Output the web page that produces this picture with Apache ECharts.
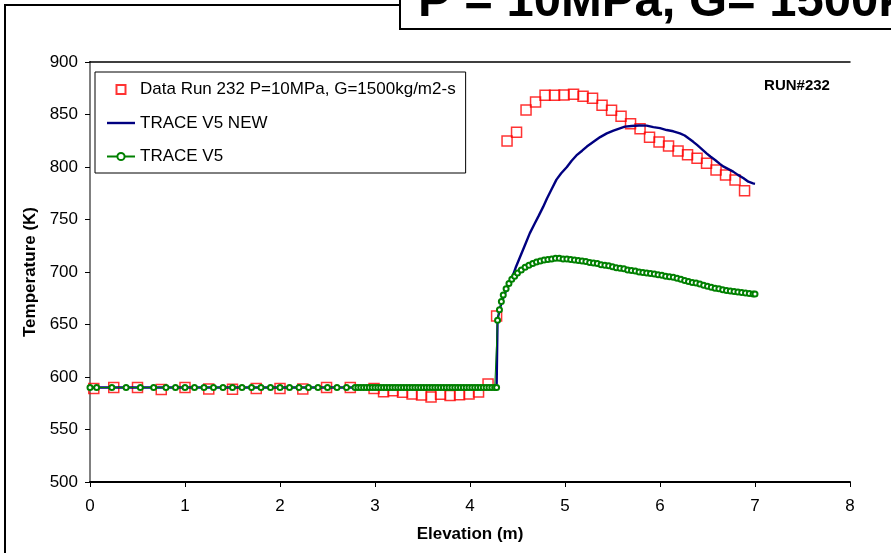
<!DOCTYPE html>
<html><head><meta charset="utf-8">
<script src="https://cdn.jsdelivr.net/npm/echarts@6/dist/echarts.min.js"></script>
<style>html,body{margin:0;padding:0;background:#fff}#c{width:891px;height:553px}</style>
</head><body><div id="c"></div>
<script>
// ---- data ----
var xTicks = [0,1,2,3,4,5,6,7,8];
var yTicks = [500,550,600,650,700,750,800,850,900];

var dataName = 'Data Run 232 P=10MPa, G=1500kg/m2-s';
var dataX = [0.04,0.25,0.5,0.75,1.0,1.25,1.5,1.75,2.0,2.24,2.49,2.74,2.99,3.09,3.19,3.29,3.39,3.49,3.59,3.69,3.79,3.89,3.99,4.09,4.19,4.28,4.39,4.49,4.59,4.69,4.79,4.89,4.99,5.09,5.19,5.29,5.39,5.49,5.59,5.69,5.79,5.89,5.99,6.09,6.19,6.29,6.39,6.49,6.59,6.69,6.79,6.89];
var dataY = [589,590,590,588,590,588.6,588.3,589,589,588.6,590,590,589,586,587,585.4,583.8,582.9,581,583.5,582.5,583.2,583.8,585.7,593.3,658,824.8,833,854.3,862,868.3,868.3,868.6,869.2,867.3,865.4,858.8,854,848.3,841.2,836.5,828.3,823.8,820,815.2,811.7,808.3,803.5,797.1,792.4,787.6,777.5];

var newName = 'TRACE V5 NEW';
var newX = [0,4.28,4.29,4.32,4.36,4.40,4.44,4.48,4.53,4.58,4.63,4.68,4.72,4.77,4.81,4.86,4.91,4.96,5.02,5.07,5.12,5.18,5.23,5.30,5.37,5.44,5.51,5.57,5.63,5.70,5.78,5.86,5.93,6.00,6.07,6.14,6.21,6.26,6.30,6.35,6.39,6.44,6.49,6.53,6.58,6.63,6.67,6.72,6.77,6.82,6.88,6.93,6.98,7.00];
var newY = [590,590,655,667,678,686,694,704,715,726,737,746,753,762,770,779,788,794,800,806,811,815.5,819.5,824,828.5,832,834.6,836.5,838.4,839,839.5,839.4,838,837,835.2,834,832,830,827.3,824,821,817,813,810,806.7,803,800.3,798,795.6,792.5,789.2,786,784.4,784];

var v5Name = 'TRACE V5';
var v5X = [0,0.07,0.23,0.38,0.53,0.67,0.8,0.9,1.0,1.1,1.2,1.3,1.4,1.5,1.6,1.7,1.8,1.9,2.0,2.1,2.2,2.3,2.4,2.5,2.6,2.7,2.79,
  2.82,2.85,2.88,2.91,2.94,2.97,3.00,3.03,3.06,3.09,3.12,3.15,3.18,3.21,3.24,3.27,3.30,3.33,3.36,3.39,3.42,3.45,3.48,3.51,3.54,3.57,3.60,3.63,3.66,3.69,3.72,3.75,3.78,3.81,3.84,3.87,3.90,3.93,3.96,3.99,4.02,4.05,4.08,4.11,4.14,4.17,4.20,4.23,4.26,4.28,
  4.29,4.31,4.33,4.35,4.38,4.41,4.44,4.47,4.50,4.54,4.58,4.62,4.66,4.70,4.74,4.78,4.82,4.86,4.90,4.94,4.98,5.02,5.06,5.10,5.14,5.18,5.22,5.26,5.30,5.34,5.38,5.42,5.46,5.50,5.54,5.58,5.62,5.66,5.70,5.74,5.78,5.82,5.86,5.90,5.94,5.98,6.02,6.06,6.10,6.14,6.18,6.22,6.26,6.30,6.34,6.38,6.42,6.46,6.50,6.54,6.58,6.62,6.66,6.70,6.74,6.78,6.82,6.86,6.90,6.94,6.98,7.00];
var v5Y = [590,590,590,590,590,590,590,590,590,590,590,590,590,590,590,590,590,590,590,590,590,590,590,590,590,590,590,
  590,590,590,590,590,590,590,590,590,590,590,590,590,590,590,590,590,590,590,590,590,590,590,590,590,590,590,590,590,590,590,590,590,590,590,590,590,590,590,590,590,590,590,590,590,590,590,590,590,590,
  654,664,672,678,684,689,693,696,699,702,704.5,706.5,708,709.5,710.5,711.5,712,712.5,713,713,712.5,712.5,712,711.5,711,710.5,710,709,708.5,708,707,706.5,706,705,704,703.5,703,702,701.5,701,700,699.5,699,698.5,698,697.5,697,696,695.5,695,694,693,692,691,690,689.5,688.5,687.5,686.5,685.5,684.5,684,683,682.5,682,681.5,681,680.5,680,679.5,679,679];

var titleText = 'P = 10MPa, G= 1500kg/m2-s';
var runLabel = 'RUN#232';
var xName = 'Elevation (m)';
var yName = 'Temperature (K)';

function pairs(xs, ys){ return xs.map(function(x,i){ return [x, ys[i]]; }); }

var FONT = 'Arial, "Liberation Sans", sans-serif';
var chart = echarts.init(document.getElementById('c'), null, {renderer:'canvas'});
chart.setOption({
  animation: false,
  backgroundColor: '#fff',
  grid: {left: 90, right: 41, top: 62, bottom: 71, show: false},
  legend: {
    orient: 'vertical', left: 95, top: 72,
    padding: [9, 10, 8, 11],
    itemGap: 16.5, itemWidth: 28, itemHeight: 9,
    backgroundColor: '#fff', borderColor: '#000', borderWidth: 1,
    textStyle: {fontFamily: FONT, fontSize: 17, color: '#000', lineHeight: 17},
    data: [
      {name: dataName, icon: 'path://M0,0L10,0L10,10L0,10Z'},
      {name: newName, icon: 'path://M0,0L28,0L28,2.4L0,2.4Z'},
      {name: v5Name}
    ]
  },
  xAxis: [{
    type: 'value', min: xTicks[0], max: xTicks[xTicks.length-1], interval: 1,
    name: xName, nameLocation: 'middle', nameGap: 44,
    nameTextStyle: {fontFamily: FONT, fontSize: 17, fontWeight: 'bold', color: '#000'},
    axisLine: {lineStyle: {color: '#000', width: 2}},
    axisTick: {show: true, length: 5, lineStyle: {color: '#000'}},
    axisLabel: {fontFamily: FONT, fontSize: 17, color: '#000', margin: 16},
    splitLine: {show: false}
  },{
    type: 'value', position: 'top', min: 0, max: 8,
    axisLine: {show: true, lineStyle: {color: '#000', width: 1.5}},
    axisTick: {show: false}, axisLabel: {show: false}, splitLine: {show: false}
  }],
  yAxis: [{
    type: 'value', min: yTicks[0], max: yTicks[yTicks.length-1], interval: 50,
    name: yName, nameLocation: 'middle', nameGap: 51, nameRotate: 90,
    nameTextStyle: {fontFamily: FONT, fontSize: 17, fontWeight: 'bold', color: '#000'},
    axisLine: {show: true, lineStyle: {color: '#000', width: 2}},
    axisTick: {show: true, length: 5, lineStyle: {color: '#000'}},
    axisLabel: {fontFamily: FONT, fontSize: 17, color: '#000', margin: 12},
    splitLine: {show: false}
  },{
    type: 'value', position: 'right', min: 500, max: 900,
    axisLine: {show: true, lineStyle: {color: '#808080', width: 2}},
    axisTick: {show: false}, axisLabel: {show: false}, splitLine: {show: false}
  }],
  series: [{
    name: dataName, type: 'scatter', symbol: 'rect', symbolSize: 10,
    itemStyle: {color: 'rgba(255,255,255,0)', borderColor: '#ff0000', borderWidth: 1.5},
    data: pairs(dataX, dataY), z: 2
  },{
    name: newName, type: 'line', symbol: 'none', showSymbol: false,
    lineStyle: {color: '#000080', width: 2.4}, itemStyle: {color: '#000080'},
    data: pairs(newX, newY), z: 3
  },{
    name: v5Name, type: 'line', symbol: 'emptyCircle', symbolSize: 5,
    lineStyle: {color: '#008000', width: 1},
    itemStyle: {color: '#008000', borderColor: '#008000', borderWidth: 1},
    data: pairs(v5X, v5Y), z: 4
  }],
  graphic: [
    {type: 'rect', z: 100, shape: {x: 5, y: 5, width: 1200, height: 1200},
     style: {fill: null, stroke: '#000', lineWidth: 2}},
    {type: 'rect', z: 101, shape: {x: 400, y: -30, width: 700, height: 59},
     style: {fill: '#fff', stroke: '#000', lineWidth: 2}},
    {type: 'text', z: 102, style: {text: titleText, x: 418, y: 2, font: 'bold 49px ' + FONT,
     fill: '#000', textAlign: 'left', textVerticalAlign: 'middle', verticalAlign: 'middle'}},
    {type: 'text', z: 102, style: {text: runLabel, x: 797, y: 86, font: 'bold 15px ' + FONT,
     fill: '#000', textAlign: 'center', textVerticalAlign: 'middle', verticalAlign: 'middle'}}
  ]
});
</script></body></html>
